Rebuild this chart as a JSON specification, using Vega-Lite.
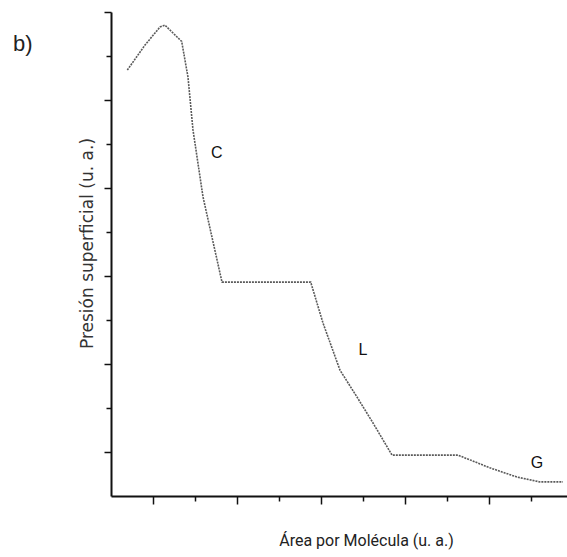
{
  "$schema": "https://vega.github.io/schema/vega-lite/v6.json",
  "width": 456,
  "height": 484,
  "autosize": {"type": "none"},
  "padding": {"left": 111, "top": 12, "right": 0, "bottom": 61},
  "background": "white",
  "config": {"view": {"stroke": null}, "font": "Liberation Sans"},
  "title": {"text": "b)", "anchor": "start", "frame": "group", "dx": -98, "dy": 49, "fontSize": 22, "fontWeight": "normal", "font": "Liberation Sans", "color": "#222"},
  "datasets": {
    "curve": [
      {"area": 0.388, "presion": 9.68},
      {"area": 0.81, "presion": 10.25},
      {"area": 1.167, "presion": 10.66},
      {"area": 1.286, "presion": 10.70},
      {"area": 1.683, "presion": 10.33},
      {"area": 1.833, "presion": 9.52},
      {"area": 1.952, "presion": 8.32},
      {"area": 2.19, "presion": 6.80},
      {"area": 2.643, "presion": 4.86},
      {"area": 4.755, "presion": 4.86},
      {"area": 5.048, "presion": 3.93},
      {"area": 5.452, "presion": 2.86},
      {"area": 5.857, "presion": 2.25},
      {"area": 6.238, "presion": 1.66},
      {"area": 6.69, "presion": 0.93},
      {"area": 8.26, "presion": 0.93},
      {"area": 9.02, "presion": 0.64},
      {"area": 9.67, "presion": 0.43},
      {"area": 10.21, "presion": 0.32},
      {"area": 10.76, "presion": 0.32}
    ],
    "labels": [
      {"area": 2.52, "presion": 7.8, "fase": "C"},
      {"area": 6.0, "presion": 3.32, "fase": "L"},
      {"area": 10.14, "presion": 0.75, "fase": "G"}
    ]
  },
  "layer": [
    {
      "data": {"name": "curve"},
      "mark": {"type": "line", "color": "#5a5a5a", "strokeWidth": 1.6, "strokeDash": [2, 1], "clip": false},
      "encoding": {
        "x": {"field": "area", "type": "quantitative", "scale": {"domain": [0, 10.857], "nice": false, "zero": false},
          "axis": {"orient": "bottom", "values": [1, 3, 5, 7, 9], "labels": false, "grid": false, "domainColor": "#111", "domainWidth": 2, "tickColor": "#111", "tickWidth": 1.5, "tickSize": 8,
            "title": "Área por Molécula (u. a.)", "titleFont": "Roboto", "titleFontSize": 16, "titleFontWeight": "normal", "titleColor": "#222", "titleX": 255, "titleY": 44, "titleBaseline": "middle", "titleAnchor": "middle", "titleAlign": "center"}},
        "y": {"field": "presion", "type": "quantitative", "scale": {"domain": [0, 11], "nice": false, "zero": false},
          "axis": {"orient": "left", "values": [1, 3, 5, 7, 9, 11], "labels": false, "grid": false, "domainColor": "#111", "domainWidth": 2, "tickColor": "#111", "tickWidth": 1.5, "tickSize": 7,
            "title": "Presión superficial (u. a.)", "titleFont": "DejaVu Sans", "titleFontSize": 17, "titleFontWeight": "normal", "titleColor": "#333", "titleX": -24, "titleY": 231, "titleAngle": -90, "titleBaseline": "middle", "titleAlign": "center"}}
      }
    },
    {
      "data": {"name": "labels"},
      "mark": {"type": "text", "font": "Liberation Sans", "fontSize": 16, "color": "#111", "align": "center", "baseline": "middle"},
      "encoding": {
        "x": {"field": "area", "type": "quantitative", "axis": {"orient": "bottom", "values": [2, 4, 6, 8, 10], "labels": false, "grid": false, "domain": false, "tickColor": "#111", "tickWidth": 1.5, "tickSize": 5, "title": null}},
        "y": {"field": "presion", "type": "quantitative", "axis": {"orient": "left", "values": [2, 4, 6, 8, 10], "labels": false, "grid": false, "domain": false, "tickColor": "#111", "tickWidth": 1.5, "tickSize": 5, "title": null}},
        "text": {"field": "fase"}
      }
    }
  ],
  "resolve": {"axis": {"x": "independent", "y": "independent"}}
}
